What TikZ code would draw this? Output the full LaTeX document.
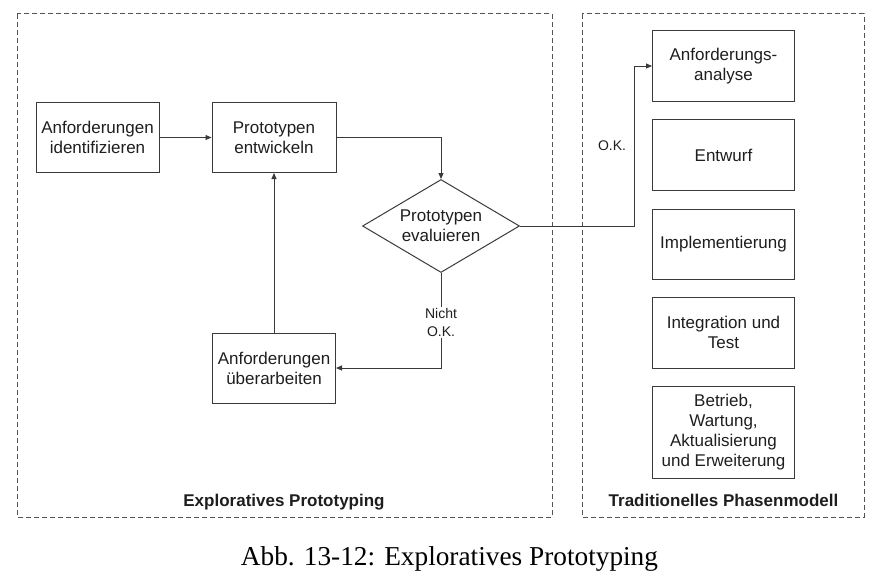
\documentclass[tikz,border=0pt]{standalone}
\usepackage{fontspec}
\setmainfont{Liberation Sans}
\newfontfamily\captionfont{Liberation Serif}
\usetikzlibrary{shapes.geometric,arrows.meta}

\definecolor{linegray}{HTML}{3A3A3A}
\definecolor{framegray}{HTML}{555555}
\definecolor{textgray}{HTML}{1E1E1E}

\begin{document}
\begin{tikzpicture}[
        x=1pt, y=-1pt,
        box/.style={
            draw=linegray,
            line width=1pt,
            rectangle,
            minimum width=123,
            minimum height=70,
            align=center,
            text=textgray,
            font=\fontsize{17}{20}\selectfont
        },
        raute/.style={
            draw=linegray,
            line width=1pt,
            diamond,
            aspect=1.69,
            inner sep=0pt,
            minimum width=157,
            minimum height=93,
            align=center,
            text=textgray,
            font=\fontsize{17}{20}\selectfont
        },
        frame/.style={
            draw=framegray,
            line width=1pt,
            dash pattern=on 5pt off 3pt
        },
        lbl/.style={
            align=center,
            text=textgray,
            font=\fontsize{14}{18}\selectfont
        },
        titel/.style={
            anchor=base,
            text=textgray,
            font=\fontsize{17}{20}\selectfont\bfseries
        },
        arr/.style={
            draw=linegray,
            line width=0.9pt,
            -{Triangle[length=6pt,width=5pt]}
        }
    ]
        \useasboundingbox (0,0) rectangle (882,578);

        % Dashed frames
        \draw[frame] (17,14) rectangle (552,517);
        \draw[frame] (582,14) rectangle (864,517);
        \node[titel] (tleft) at (284,506) {Exploratives Prototyping};
        \node[titel] (tright) at (723.5,506) {Traditionelles Phasenmodell};

        % Prototyping cycle
        \node[box] (anfident) at (97.5,137.5) {Anforderungen\\identifizieren};
        \node[box, minimum width=124] (protoent) at (274,137.5) {Prototypen\\entwickeln};
        \node[raute] (protoeval) at (441,226) {Prototypen\\evaluieren};
        \node[box] (anfueber) at (274,368) {Anforderungen\\überarbeiten};

        \draw[arr] (anfident.east) -- (protoent.west);
        \draw[arr] (protoent.east) -| (protoeval.north);
        \draw[arr] (protoeval.south) |- (anfueber.east)
            node[lbl, fill=white, inner sep=1pt, pos=0.26] (nok) {Nicht\\O.K.};
        \draw[arr] (anfueber.north) -- (protoent.south);

        % Phase model boxes
        \foreach \n/\y/\h/\t in {anal/66/70/{Anforderungs-\\analyse},
                                 entw/155/71/{Entwurf},
                                 impl/244/70/{Implementierung},
                                 integ/332.5/71/{Integration und\\Test},
                                 betr/432/92/{Betrieb,\\Wartung,\\Aktualisierung\\und Erweiterung}} {
            \node[box, minimum width=142, minimum height=\h] (\n) at (723.5,\y) {\t};
        }

        % Transition to phase model
        \draw[arr] (protoeval.east) -- ++(114,0) |- (anal.west);
        \node[lbl] (ok) at (612,146) {O.K.};

        % Caption
        \node[anchor=base, text=black, font=\captionfont\fontsize{27.3}{32}\selectfont] (caption) at (449.5,565) {Abb. 13-12: Exploratives Prototyping};
    \end{tikzpicture}
\end{document}
